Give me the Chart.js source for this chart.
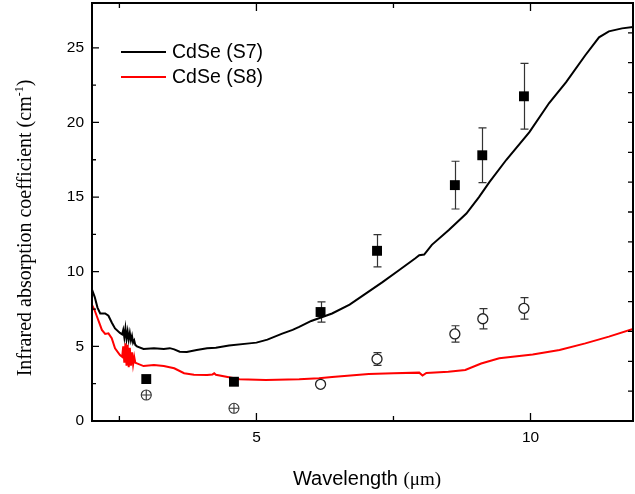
<!DOCTYPE html>
<html>
<head>
<meta charset="utf-8">
<script src="https://cdn.jsdelivr.net/npm/chart.js@4/dist/chart.umd.min.js"></script>
<style>
  html, body { margin: 0; padding: 0; background: #fff; }
  #wrap { width: 635px; height: 494px; }
</style>
</head>
<body>
<div id="wrap"><canvas id="chart" width="635" height="494"></canvas></div>
<script>
// measured spectra (wavelength in um, coefficient in cm-1)
var s7Wave = [2.00, 2.05, 2.10, 2.15, 2.24, 2.30, 2.36, 2.42, 2.51, 2.55, 2.57, 2.59, 2.61, 2.63, 2.65, 2.67, 2.69, 2.71,
              2.73, 2.75, 2.77, 2.79, 2.82, 2.94,
              3.13, 3.31, 3.42, 3.50, 3.60, 3.73, 3.91, 4.10, 4.26, 4.50, 4.87, 5.00, 5.20, 5.47, 5.66, 5.78, 6.00, 6.38,
              6.70, 7.00, 7.30, 7.60, 7.90, 7.97, 8.06, 8.20, 8.51, 8.83, 9.06, 9.25, 9.56, 9.98, 10.34, 10.65, 11.00,
              11.25, 11.43, 11.67, 11.87];
var s7Coef = [8.8, 8.3, 7.6, 7.2, 7.2, 7.05, 6.6, 6.2, 5.9, 5.8, 6.1, 5.6, 6.2, 5.5, 6.0, 5.45, 5.9, 5.4,
              5.7, 5.25, 5.4, 5.1, 5.0, 4.82,
              4.87, 4.82, 4.88, 4.8, 4.64, 4.62, 4.75, 4.87, 4.9, 5.05, 5.2, 5.25, 5.45, 5.85, 6.1, 6.3, 6.7, 7.2,
              7.8, 8.55, 9.3, 10.1, 10.9, 11.1, 11.15, 11.8, 12.8, 13.9, 15.0, 16.0, 17.5, 19.35, 21.3, 22.7, 24.5,
              25.7, 26.1, 26.3, 26.4];

var s8Wave = [2.00, 2.05, 2.09, 2.14, 2.18, 2.24, 2.30, 2.36, 2.42, 2.51, 2.55, 2.57, 2.59, 2.61, 2.63, 2.65, 2.67,
              2.69, 2.71, 2.73, 2.75, 2.77, 2.79,
              2.82, 2.94, 3.13, 3.31, 3.50, 3.68, 3.86, 4.10, 4.20, 4.23, 4.26, 4.69, 5.17, 5.78,
              6.14, 6.38, 7.05, 7.50, 7.97, 8.03, 8.10, 8.50, 8.81, 9.10, 9.43, 10.04, 10.53, 11.00, 11.43, 11.87];
var s8Coef = [7.77, 7.4, 7.0, 6.5, 6.1, 5.83, 5.87, 5.54, 4.87, 4.42, 4.3, 5.0, 3.9, 5.2, 3.7, 5.1, 3.6,
              4.9, 3.7, 4.6, 3.8, 4.3, 3.9,
              3.86, 3.68, 3.75, 3.68, 3.53, 3.2, 3.1, 3.08, 3.12, 3.2, 3.1, 2.8, 2.75, 2.79,
              2.86, 2.95, 3.15, 3.2, 3.24, 3.05, 3.22, 3.3, 3.42, 3.85, 4.2, 4.45, 4.75, 5.2, 5.65, 6.16];

// point measurements
var s7PtWave = [2.99, 4.59, 6.17, 7.20, 8.62, 9.12, 9.88];
var s7PtCoef = [2.81, 2.63, 7.30, 11.40, 15.80, 17.80, 21.75];
var s7PtErr  = [0, 0, 0.68, 1.08, 1.60, 1.83, 2.20];

var s8CrossWave = [2.99, 4.59];
var s8CrossCoef = [1.74, 0.85];

var s8PtWave = [6.17, 7.20, 8.62, 9.13, 9.88];
var s8PtCoef = [2.46, 4.15, 5.83, 6.85, 7.55];
var s8PtErr  = [0, 0.43, 0.55, 0.68, 0.72];

var xTicks = [5, 10];
var yTicks = [0, 5, 10, 15, 20, 25];
var legendNames = ["CdSe (S7)", "CdSe (S8)"];
var lineColors = ["#000000", "#ff0000"];

function pts(xs, ys){
    return xs.map(function(x, i){ return {x: x, y: ys[i]}; });
}

var SANS = '"Liberation Sans", Arial, sans-serif';
var SERIF = '"Liberation Serif", "Times New Roman", serif';

function isMult(v, s){
    return Math.abs(v / s - Math.round(v / s)) < 1e-6;
}

function drawErrors(ctx, xs, ys, es, sx, sy){
    ctx.strokeStyle = '#333';
    ctx.lineWidth = 1.2;
    for (var i = 0; i < xs.length; i++) {
        if (!es[i]) continue;
        var px = Math.round(sx.getPixelForValue(xs[i])) + 0.5;
        var t = sy.getPixelForValue(ys[i] + es[i]);
        var b = sy.getPixelForValue(ys[i] - es[i]);
        ctx.beginPath();
        ctx.moveTo(px, t); ctx.lineTo(px, b);
        ctx.moveTo(px - 4, t); ctx.lineTo(px + 4, t);
        ctx.moveTo(px - 4, b); ctx.lineTo(px + 4, b);
        ctx.stroke();
    }
}

var extras = {
    id: 'extras',
    beforeDraw: function(chart){
        var ctx = chart.ctx;
        ctx.save();
        ctx.fillStyle = '#fff';
        ctx.fillRect(0, 0, chart.width, chart.height);
        ctx.restore();
    },
    beforeDatasetsDraw: function(chart){
        var ctx = chart.ctx, sx = chart.scales.x, sy = chart.scales.y;
        ctx.save();
        drawErrors(ctx, s7PtWave, s7PtCoef, s7PtErr, sx, sy);
        drawErrors(ctx, s8PtWave, s8PtCoef, s8PtErr, sx, sy);
        ctx.restore();
    },
    afterDraw: function(chart){
        var ctx = chart.ctx, a = chart.chartArea;
        var sx = chart.scales.x, sy = chart.scales.y;
        ctx.save();

        // ticks, all pointing inward
        ctx.strokeStyle = '#000';
        ctx.lineWidth = 1.3;
        ctx.beginPath();
        sx.ticks.forEach(function(t){
            if (!isMult(t.value, 2.5)) return;
            var len = isMult(t.value, 5) ? 8 : 5;
            var p = sx.getPixelForValue(t.value);
            ctx.moveTo(p, a.bottom); ctx.lineTo(p, a.bottom - len);
            ctx.moveTo(p, a.top); ctx.lineTo(p, a.top + len);
        });
        sy.ticks.forEach(function(t){
            if (!isMult(t.value, 2.5)) return;
            var len = isMult(t.value, 5) ? 7 : 4;
            var p = sy.getPixelForValue(t.value);
            ctx.moveTo(a.left, p); ctx.lineTo(a.left + len, p);
        });
        // right axis carries its own ticks every 2 units
        for (var r = 2; r <= sy.max; r += 2) {
            var q = sy.getPixelForValue(r);
            ctx.moveTo(a.right, q); ctx.lineTo(a.right - 5, q);
        }
        ctx.stroke();

        // frame
        ctx.lineWidth = 2;
        ctx.strokeRect(a.left, a.top, a.right - a.left, a.bottom - a.top);

        // legend
        ctx.textBaseline = 'middle';
        ctx.textAlign = 'left';
        ctx.font = '19.5px ' + SANS;
        legendNames.forEach(function(name, i){
            var y = 52 + i * 25;
            ctx.strokeStyle = lineColors[i];
            ctx.lineWidth = 2;
            ctx.beginPath();
            ctx.moveTo(121, y); ctx.lineTo(166, y);
            ctx.stroke();
            ctx.fillStyle = '#000';
            ctx.fillText(name, 172, y + 1);
        });

        // x title: sans word, serif unit
        ctx.textBaseline = 'alphabetic';
        ctx.font = '20px ' + SANS;
        var w1 = ctx.measureText('Wavelength ').width;
        ctx.font = '19px ' + SERIF;
        var w2 = ctx.measureText('(\u03bcm)').width;
        var x0 = 367 - (w1 + w2) / 2;
        ctx.font = '20px ' + SANS;
        ctx.fillText('Wavelength ', x0, 485);
        ctx.font = '19px ' + SERIF;
        ctx.fillText('(\u03bcm)', x0 + w1, 485);

        // y title, rotated, with superscript
        ctx.translate(31, 228);
        ctx.rotate(-Math.PI / 2);
        ctx.font = '20px ' + SERIF;
        var main = 'Infrared absorption coefficient (cm';
        var wm = ctx.measureText(main).width;
        var wc = ctx.measureText(')').width;
        ctx.font = '12px ' + SERIF;
        var ws = ctx.measureText('-1').width;
        var start = -(wm + ws + wc) / 2;
        ctx.font = '20px ' + SERIF;
        ctx.fillText(main, start, 0);
        ctx.fillText(')', start + wm + ws, 0);
        ctx.font = '12px ' + SERIF;
        ctx.fillText('-1', start + wm, -8);

        ctx.restore();
    }
};

new Chart("chart", {
    type: "line",
    data: {
        datasets: [
            { data: pts(s7Wave, s7Coef), borderColor: lineColors[0], borderWidth: 2, pointRadius: 0, order: 10 },
            { data: pts(s8Wave, s8Coef), borderColor: lineColors[1], borderWidth: 2, pointRadius: 0, order: 9 },
            { data: pts(s7PtWave, s7PtCoef), showLine: false, pointStyle: 'rect', pointRadius: 7,
              backgroundColor: '#000', borderColor: '#000', borderWidth: 0, order: 2 },
            { data: pts(s8CrossWave, s8CrossCoef), showLine: false, pointStyle: 'circle', pointRadius: 5,
              backgroundColor: '#fff', borderColor: '#333', borderWidth: 1.1, order: 2 },
            { data: pts(s8CrossWave, s8CrossCoef), showLine: false, pointStyle: 'cross', pointRadius: 5,
              borderColor: '#333', borderWidth: 1.1, order: 1 },
            { data: pts(s8PtWave, s8PtCoef), showLine: false, pointStyle: 'circle', pointRadius: 5,
              backgroundColor: '#fff', borderColor: '#222', borderWidth: 1.3, order: 2 }
        ]
    },
    options: {
        responsive: false,
        animation: false,
        events: [],
        devicePixelRatio: 1,
        layout: { autoPadding: false, padding: { top: 3, right: 2, left: 0, bottom: 0 } },
        plugins: { legend: { display: false }, tooltip: { enabled: false } },
        scales: {
            x: {
                type: 'linear', min: 2, max: 11.87,
                grid: { display: false, drawTicks: false },
                border: { display: false },
                afterFit: function(s){ s.height = 73; s.paddingLeft = 0; s.paddingRight = 0; },
                ticks: {
                    stepSize: 2.5, autoSkip: false, maxRotation: 0, padding: 7,
                    color: '#000', font: { family: SANS, size: 15.5 },
                    callback: function(v){ return xTicks.indexOf(v) >= 0 ? String(v) : ''; }
                }
            },
            y: {
                min: 0, max: 28,
                grid: { display: false, drawTicks: false },
                border: { display: false },
                afterFit: function(s){ s.width = 92; s.paddingTop = 0; s.paddingBottom = 0; },
                ticks: {
                    stepSize: 2.5, autoSkip: false, padding: 8,
                    color: '#000', font: { family: SANS, size: 15.5 },
                    callback: function(v){ return yTicks.indexOf(v) >= 0 ? String(v) : ''; }
                }
            }
        }
    },
    plugins: [extras]
});
</script>
</body>
</html>
